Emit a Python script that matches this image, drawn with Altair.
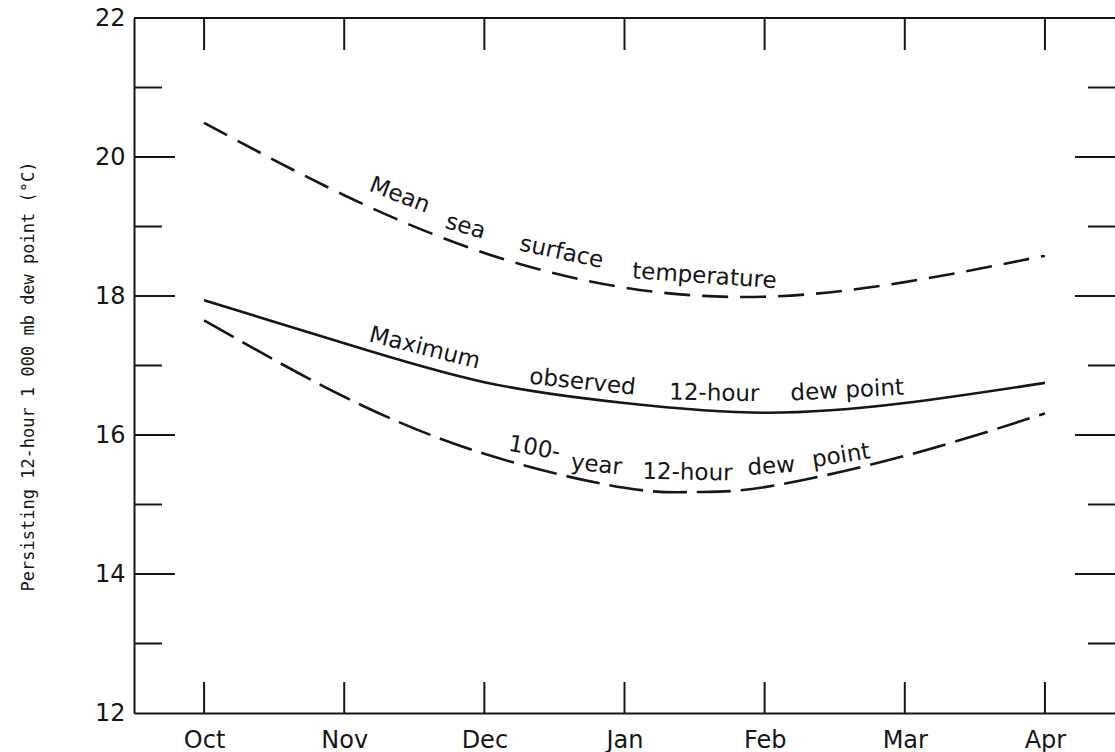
import altair as alt
import pandas as pd

# ---- data ----
months = ["Oct", "Nov", "Dec", "Jan", "Feb", "Mar", "Apr"]
month_idx = [0, 1, 2, 3, 4, 5, 6]

sst_x = [0, 1, 2, 3, 4, 5, 6]
sst_y = [20.49, 19.45, 18.62, 18.12, 17.99, 18.20, 18.58]

maxobs_x = [0, 1, 2, 3, 4, 5, 6]
maxobs_y = [17.94, 17.32, 16.76, 16.46, 16.32, 16.46, 16.75]

yr100_x = [0, 1, 2, 3, 3.5, 4, 5, 6]
yr100_y = [17.65, 16.55, 15.73, 15.24, 15.18, 15.25, 15.70, 16.31]

y_labels = [12, 14, 16, 18, 20, 22]
y_major = [14, 16, 18, 20]
y_minor = [13, 15, 17, 19, 21]

ann_text = ["Mean", "sea", "surface", "temperature",
            "Maximum", "observed", "12-hour", "dew point",
            "100-", "year", "12-hour", "dew", "point"]
ann_x = [1.396, 1.866, 2.551, 3.570,
         1.574, 2.700, 3.641, 4.589,
         2.358, 2.800, 3.449, 4.047, 4.546]
ann_y = [19.45, 19.00, 18.63, 18.285,
         17.25, 16.76, 16.60, 16.64,
         15.81, 15.57, 15.46, 15.55, 15.70]
ann_angle = [21, 16, 12, 4,
             14, 6, 1, 357,
             10, 6, 1, 356, 351]

W, H = 981, 695
INK = "#161616"
XDOM = [-0.5, 6.5]
YDOM = [12, 22]

xscale = alt.Scale(domain=XDOM, nice=False, zero=False)
yscale = alt.Scale(domain=YDOM, nice=False, zero=False)

label_expr = "[" + ",".join("'%s'" % m for m in months) + "][datum.value]"

xaxis = alt.Axis(values=month_idx, labelExpr=label_expr, title=None,
                 grid=False, ticks=False, domain=True, domainColor=INK,
                 domainWidth=2, labelFont="DejaVu Sans", labelFontSize=24,
                 labelColor=INK, labelPadding=15)
yaxis = alt.Axis(values=y_labels, grid=False, ticks=False, domain=True,
                 domainColor=INK, domainWidth=2, labelFont="DejaVu Sans",
                 labelFontSize=24, labelColor=INK, labelPadding=9,
                 title="Persisting 12-hour 1 000 mb dew point (°C)",
                 titleFont="DejaVu Sans Mono", titleFontSize=17,
                 titleFontWeight="normal", titleColor=INK,
                 titleX=-106, titleY=358, titleAngle=270,
                 titleAlign="center", titleBaseline="middle")

X = alt.X("x:Q", scale=xscale, axis=xaxis)
Y = alt.Y("y:Q", scale=yscale, axis=yaxis)

sst = pd.DataFrame({"x": sst_x, "y": sst_y})
mx = pd.DataFrame({"x": maxobs_x, "y": maxobs_y})
yr = pd.DataFrame({"x": yr100_x, "y": yr100_y})

line_sst = alt.Chart(sst).mark_line(
    color=INK, strokeWidth=2.6, strokeDash=[26, 12], interpolate="natural"
).encode(x=X, y=Y)

line_max = alt.Chart(mx).mark_line(
    color=INK, strokeWidth=2.6, interpolate="natural"
).encode(x=X, y=Y)

line_yr = alt.Chart(yr).mark_line(
    color=INK, strokeWidth=2.6, strokeDash=[34, 10], interpolate="natural"
).encode(x=X, y=Y)

mdf = pd.DataFrame({"x": month_idx})
top_ticks = alt.Chart(mdf).mark_rule(color=INK, strokeWidth=2).encode(
    x=X, y=alt.value(0), y2=alt.value(32))
bot_ticks = alt.Chart(mdf).mark_rule(color=INK, strokeWidth=2).encode(
    x=X, y=alt.value(H - 31), y2=alt.value(H))

majdf = pd.DataFrame({"y": y_major})
mindf = pd.DataFrame({"y": y_minor})
left_major = alt.Chart(majdf).mark_rule(color=INK, strokeWidth=2).encode(
    y=Y, x=alt.value(0), x2=alt.value(41))
left_minor = alt.Chart(mindf).mark_rule(color=INK, strokeWidth=2).encode(
    y=Y, x=alt.value(0), x2=alt.value(28))
right_major = alt.Chart(majdf).mark_rule(color=INK, strokeWidth=2).encode(
    y=Y, x=alt.value(W - 40), x2=alt.value(W))
right_minor = alt.Chart(mindf).mark_rule(color=INK, strokeWidth=2).encode(
    y=Y, x=alt.value(W - 27), x2=alt.value(W))

top_border = alt.Chart(mdf).mark_rule(color=INK, strokeWidth=2).encode(
    x=alt.value(0), x2=alt.value(W), y=alt.value(0))

adf = pd.DataFrame({"t": ann_text, "x": ann_x, "y": ann_y, "a": ann_angle})
labels = alt.Chart(adf).mark_text(
    font="DejaVu Sans", fontSize=23, color=INK, align="center", baseline="middle"
).encode(
    x=X, y=Y, text="t:N", angle=alt.Angle("a:Q", scale=None))

chart = alt.layer(
    line_sst, line_max, line_yr, top_ticks, bot_ticks,
    left_major, left_minor, right_major, right_minor, top_border, labels
).properties(
    width=W, height=H, background="white",
    autosize=alt.AutoSizeParams(type="none"),
    padding={"left": 134, "top": 18, "right": 0, "bottom": 39},
).configure_view(stroke=None)

chart.save("out.html", embed_options={"renderer": "svg", "actions": False})
